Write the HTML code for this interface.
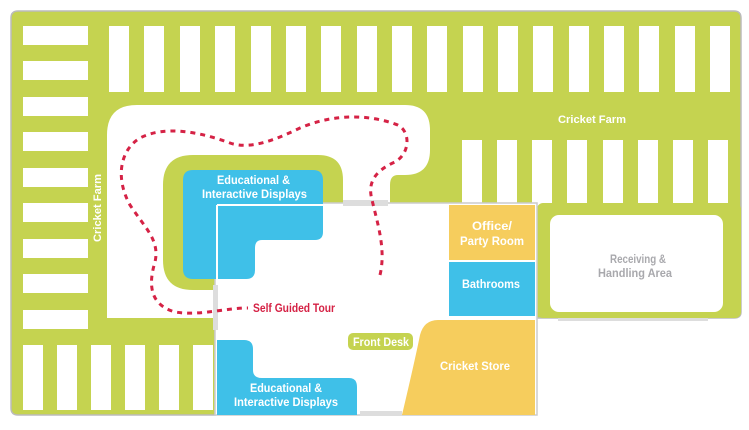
<!DOCTYPE html>
<html><head><style>
body{margin:0;background:#fff;}
svg{display:block;}
text{font-family:"Liberation Sans Narrow","Liberation Sans",sans-serif;font-weight:bold;}
</style></head><body>
<svg width="749" height="430" viewBox="0 0 749 430" xmlns="http://www.w3.org/2000/svg">
<path d="M18 11 H734 Q741 11 741 18 V312 Q741 318 734 318 H215 V415 H18 Q11 415 11 408 V18 Q11 11 18 11 Z" fill="#c5d350" stroke="#bbb" stroke-width="1.5"/>
<g fill="#fff">
<rect x="109" y="26" width="20" height="66"/><rect x="144" y="26" width="20" height="66"/><rect x="180" y="26" width="20" height="66"/><rect x="215" y="26" width="20" height="66"/><rect x="251" y="26" width="20" height="66"/><rect x="286" y="26" width="20" height="66"/><rect x="321" y="26" width="20" height="66"/><rect x="357" y="26" width="20" height="66"/><rect x="392" y="26" width="20" height="66"/><rect x="427" y="26" width="20" height="66"/><rect x="463" y="26" width="20" height="66"/><rect x="498" y="26" width="20" height="66"/><rect x="533" y="26" width="20" height="66"/><rect x="569" y="26" width="20" height="66"/><rect x="604" y="26" width="20" height="66"/><rect x="639" y="26" width="20" height="66"/><rect x="675" y="26" width="20" height="66"/><rect x="710" y="26" width="20" height="66"/>
<rect x="23" y="26" width="65" height="19"/><rect x="23" y="61" width="65" height="19"/><rect x="23" y="97" width="65" height="19"/><rect x="23" y="132" width="65" height="19"/><rect x="23" y="168" width="65" height="19"/><rect x="23" y="203" width="65" height="19"/><rect x="23" y="239" width="65" height="19"/><rect x="23" y="274" width="65" height="19"/><rect x="23" y="310" width="65" height="19"/>
<rect x="23" y="345" width="20" height="65"/><rect x="57" y="345" width="20" height="65"/><rect x="91" y="345" width="20" height="65"/><rect x="125" y="345" width="20" height="65"/><rect x="159" y="345" width="20" height="65"/><rect x="193" y="345" width="20" height="65"/>
<rect x="462" y="140" width="20" height="66"/><rect x="497" y="140" width="20" height="66"/><rect x="532" y="140" width="20" height="66"/><rect x="567" y="140" width="20" height="66"/><rect x="603" y="140" width="20" height="66"/><rect x="638" y="140" width="20" height="66"/><rect x="673" y="140" width="20" height="66"/><rect x="708" y="140" width="20" height="66"/>
</g>
<rect x="537" y="203" width="204" height="115" rx="6" fill="#c5d350"/>
<rect x="550" y="215" width="173" height="97" rx="9" fill="#fff"/>
<rect x="558" y="318" width="150" height="3" fill="#ddd"/>
<path d="M107 318 V135 Q107 105 137 105 H405 Q430 105 430 130 V150 Q430 175 405 175 H398 Q390 175 390 185 V210 H215 V318 Z" fill="#fff"/>
<path d="M193 155 H318 Q343 155 343 180 V210 H215 V290 H193 Q163 290 163 260 V185 Q163 155 193 155 Z" fill="#c5d350"/>
<rect x="215" y="203" width="322" height="212" fill="#fff" stroke="#ccc" stroke-width="1.5"/>
<rect x="343" y="200" width="45" height="6" fill="#ddd"/>
<rect x="213" y="285" width="5" height="45" fill="#ddd"/>
<rect x="360" y="411" width="42" height="5" fill="#ddd"/>
<path d="M193 170 H313 Q323 170 323 180 V232 Q323 240 315 240 H262 Q255 240 255 248 V270 Q255 279 246 279 H193 Q183 279 183 269 V180 Q183 170 193 170 Z" fill="#3fc0e8"/>
<path d="M217 205 H323 M217 205 V279" stroke="#fff" stroke-width="2" fill="none"/>
<path d="M217 340 H244 Q253 340 253 349 V370 Q253 378 262 378 H349 Q357 378 357 387 V415 H217 Z" fill="#3fc0e8"/>
<rect x="449" y="205" width="86" height="55" fill="#f6cd5d"/>
<rect x="449" y="262" width="86" height="54" fill="#3fc0e8"/>
<path d="M438 320 H535 V415 H402 Q415 360 420 335 Q424 320 438 320 Z" fill="#f6cd5d"/>
<rect x="348" y="333" width="65" height="17" rx="5" fill="#c5d350"/>
<path d="M380 275 C386 250 378 225 372 200 C368 185 372 172 395 162 C412 152 410 128 395 124 C370 115 335 113 300 128 C275 140 250 150 230 143 C200 132 165 125 140 138 C120 150 115 178 130 205 C145 228 160 240 155 262 C148 285 150 305 175 312 C200 316 225 308 248 308" fill="none" stroke="#d52245" stroke-width="3" stroke-dasharray="5 5"/>
<g fill="#fff" font-size="12" lengthAdjust="spacingAndGlyphs">
<text x="217" y="184" textLength="73" lengthAdjust="spacingAndGlyphs">Educational &amp;</text>
<text x="202" y="198" textLength="105" lengthAdjust="spacingAndGlyphs">Interactive Displays</text>
<text x="250" y="392" textLength="72" lengthAdjust="spacingAndGlyphs">Educational &amp;</text>
<text x="234" y="406" textLength="104" lengthAdjust="spacingAndGlyphs">Interactive Displays</text>
<text x="472" y="230" textLength="40" lengthAdjust="spacingAndGlyphs">Office/</text>
<text x="460" y="245" textLength="64" lengthAdjust="spacingAndGlyphs">Party Room</text>
<text x="462" y="288" textLength="58" lengthAdjust="spacingAndGlyphs">Bathrooms</text>
<text x="440" y="370" textLength="70" lengthAdjust="spacingAndGlyphs">Cricket Store</text>
<text x="353" y="346" textLength="56" lengthAdjust="spacingAndGlyphs">Front Desk</text>
<text x="558" y="123" font-size="11" textLength="68" lengthAdjust="spacingAndGlyphs">Cricket Farm</text>
<text transform="translate(101 242) rotate(-90)" font-size="11" textLength="68" lengthAdjust="spacingAndGlyphs">Cricket Farm</text>
</g>
<g fill="#a9a9ad" font-size="12">
<text x="610" y="263" textLength="56" lengthAdjust="spacingAndGlyphs">Receiving &amp;</text>
<text x="598" y="277" textLength="74" lengthAdjust="spacingAndGlyphs">Handling Area</text>
</g>
<text x="253" y="312" fill="#d52245" font-size="12" textLength="82" lengthAdjust="spacingAndGlyphs">Self Guided Tour</text>
</svg>
</body></html>
